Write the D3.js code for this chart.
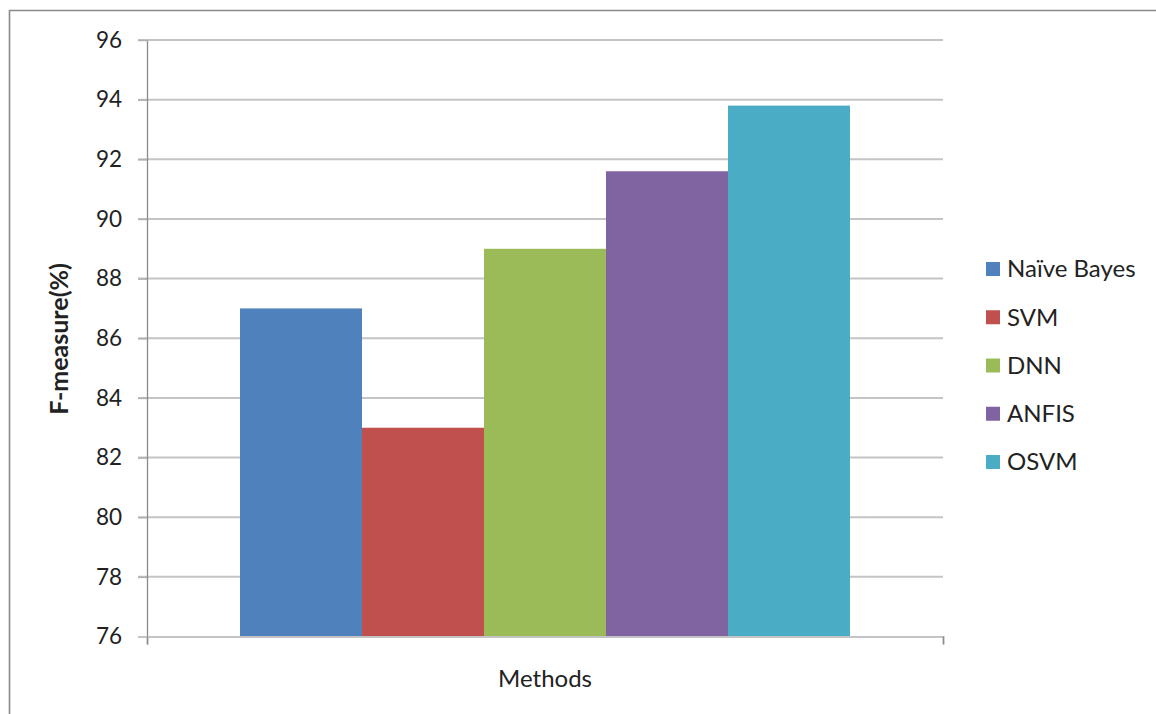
<!DOCTYPE html>
<html>
<head>
<meta charset="utf-8">
<script src="https://cdn.jsdelivr.net/npm/d3@7"></script>
<style>
  html, body { margin: 0; padding: 0; background: #fff; }
  svg { display: block; }
  text { font-family: Lato, "Open Sans", sans-serif; fill: #222; }
</style>
</head>
<body>
<svg id="chart" width="1156" height="714"></svg>
<script>
// F-measure per method
const methods = ["Naïve Bayes", "SVM", "DNN", "ANFIS", "OSVM"];
const fMeasure = [87.0, 83.0, 89.0, 91.6, 93.8];
const colors = ["#4f81bd", "#c0504d", "#9bbb59", "#8064a2", "#4bacc6"];
const yTicks = [76, 78, 80, 82, 84, 86, 88, 90, 92, 94, 96];
const category = ["Methods"];

const svg = d3.select("#chart");

// outer frame
svg.append("path")
  .attr("d", "M9.5,714 V10.5 H1156")
  .attr("fill", "none")
  .attr("stroke", "#8a8a8a")
  .attr("stroke-width", 1.6);

const plot = { left: 147, right: 943, top: 40, bottom: 636.5 };

const y = d3.scaleLinear().domain([76, 96]).range([plot.bottom, plot.top]);
const x0 = d3.scaleBand().domain(category).range([plot.left, plot.right])
  .paddingOuter(0.1525).paddingInner(0);
const x1 = d3.scaleBand().domain(methods).range([x0("Methods"), x0("Methods") + x0.bandwidth()]);

// horizontal gridlines
svg.append("g")
  .selectAll("line")
  .data(yTicks.filter(t => t !== 76))
  .join("line")
  .attr("x1", plot.left - 9).attr("x2", plot.right)
  .attr("y1", d => y(d)).attr("y2", d => y(d))
  .attr("stroke", "#c4c4c4")
  .attr("stroke-width", 2);

// bars
svg.append("g")
  .selectAll("rect")
  .data(methods)
  .join("rect")
  .attr("x", d => x1(d))
  .attr("width", x1.bandwidth())
  .attr("y", (d, i) => y(fMeasure[i]))
  .attr("height", (d, i) => y(76) - y(fMeasure[i]))
  .attr("fill", (d, i) => colors[i]);

// y axis
const yAxis = svg.append("g")
  .attr("transform", `translate(${plot.left},0)`)
  .call(d3.axisLeft(y).tickValues(yTicks).tickSize(9).tickPadding(16).tickSizeOuter(0));
yAxis.select(".domain").attr("stroke", "#8a8a8a").attr("stroke-width", 1.3);
yAxis.selectAll(".tick line").attr("stroke", "#b0b0b0").attr("stroke-width", 1.5);
yAxis.selectAll(".tick text")
  .style("font-family", "Lato, sans-serif")
  .style("font-size", "22.5px")
  .attr("fill", "#222");

// x axis baseline with end ticks
const xAxis = svg.append("g")
  .attr("transform", `translate(0,${plot.bottom})`)
  .call(d3.axisBottom(d3.scaleLinear().domain([0, 1]).range([plot.left, plot.right]))
    .tickValues([0, 1]).tickSize(8).tickFormat(""));
xAxis.select(".domain").attr("stroke", "#c4c4c4").attr("stroke-width", 2);
xAxis.selectAll(".tick line").attr("stroke", "#8a8a8a").attr("stroke-width", 1.3);

// axis titles
svg.append("text")
  .attr("x", (plot.left + plot.right) / 2)
  .attr("y", 687)
  .attr("text-anchor", "middle")
  .style("font-size", "24px")
  .text("Methods");

svg.append("text")
  .attr("transform", `translate(68,339) rotate(-90)`)
  .attr("text-anchor", "middle")
  .style("font-size", "25px")
  .style("font-weight", "bold")
  .text("F-measure(%)");

// legend
const legend = svg.append("g")
  .selectAll("g")
  .data(methods)
  .join("g")
  .attr("transform", (d, i) => `translate(986,${269 + i * 48.25})`);
legend.append("rect")
  .attr("x", 0).attr("y", -7)
  .attr("width", 14).attr("height", 14)
  .attr("fill", (d, i) => colors[i]);
legend.append("text")
  .attr("x", 21).attr("y", 0)
  .attr("dy", "0.35em")
  .style("font-size", "24px")
  .text(d => d);
</script>
</body>
</html>
